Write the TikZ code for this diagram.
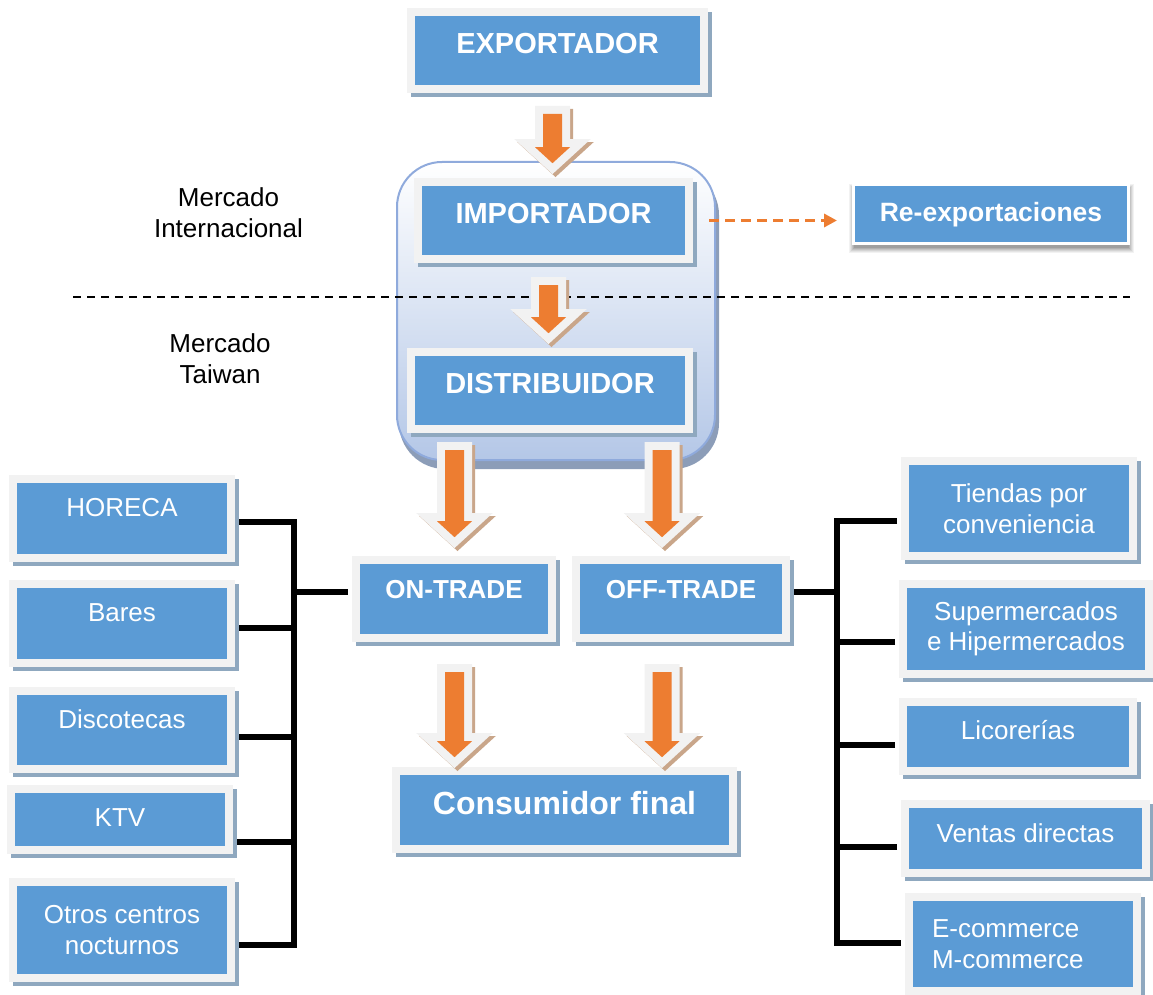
\documentclass[tikz,border=0pt]{standalone}
\usepackage{fontspec}
\setmainfont{Liberation Sans}
\usetikzlibrary{calc,arrows.meta}
\definecolor{boxblue}{HTML}{5B9BD5}
\definecolor{framec}{HTML}{F2F2F2}
\definecolor{shadowc}{HTML}{8FA8BF}
\definecolor{arrowor}{HTML}{ED7D31}
\definecolor{arrsh}{HTML}{C9A68A}
\definecolor{contb}{HTML}{8FAADC}
\definecolor{contfill}{HTML}{B4C7E7}
\definecolor{contsh}{HTML}{8C9DB8}
\newcommand\rup[2]{\raisebox{#1}[\height][\depth]{#2}}
\newcommand\blockarrow[2]{%
 \fill[arrsh, draw=arrsh, line width=16pt, transform canvas={shift={(3pt,-3pt)}}] let \p1=#1, \p2=#2 in (\x2-9.5pt,\y1-8pt) -- (\x2+9.5pt,\y1-8pt) -- (\x2+9.5pt,\y2+26.8pt) -- (\x2+17.5pt,\y2+26.8pt) -- (\x2,\y2+10.8pt) -- (\x2-17.5pt,\y2+26.8pt) -- (\x2-9.5pt,\y2+26.8pt) -- cycle;
 \fill[framec, draw=framec, line width=16pt] let \p1=#1, \p2=#2 in (\x2-9.5pt,\y1-8pt) -- (\x2+9.5pt,\y1-8pt) -- (\x2+9.5pt,\y2+26.8pt) -- (\x2+17.5pt,\y2+26.8pt) -- (\x2,\y2+10.8pt) -- (\x2-17.5pt,\y2+26.8pt) -- (\x2-9.5pt,\y2+26.8pt) -- cycle;
 \fill[arrowor] let \p1=#1, \p2=#2 in (\x2-9.5pt,\y1-8pt) -- (\x2+9.5pt,\y1-8pt) -- (\x2+9.5pt,\y2+26.8pt) -- (\x2+17.5pt,\y2+26.8pt) -- (\x2,\y2+10.8pt) -- (\x2-17.5pt,\y2+26.8pt) -- (\x2-9.5pt,\y2+26.8pt) -- cycle;
}
\tikzset{
 bx/.style={fill=boxblue, draw=framec, line width=8pt, inner sep=0pt, text=white, align=center,
   font=\fontsize{26}{30.5}\selectfont,
   preaction={draw=shadowc, fill=shadowc, line width=8pt, transform canvas={shift={(4pt,-4pt)}}}},
 bbx/.style={bx, font=\bfseries\fontsize{29}{34}\selectfont},
 one/.style={text depth=0pt},
 sz/.style 2 args={minimum width=#1pt, minimum height=#2pt},
 lbl/.style={align=center, font=\fontsize{26}{31}\selectfont, inner sep=0pt},
 tree/.style={line width=6pt, black, line join=miter},
}
\begin{document}
\begin{tikzpicture}[x=1pt,y=-1pt]
\useasboundingbox (0,0) rectangle (1153,995);
% group container
\node[sz={318}{298}, rounded corners=45pt, draw=contb, line width=2pt, top color=white, bottom color=contfill,
  preaction={fill=contsh, draw=contsh, line width=2pt, transform canvas={shift={(3pt,-8pt)}}}] (grp) at (556,311) {};
% market labels
\node[lbl] (mi) at (228.5,213) {Mercado\\Internacional};
\node[lbl] (mt) at (220,359) {Mercado\\Taiwan};
\coordinate (dl) at (73,297);
\coordinate (dr) at (1130,297);
\draw[line width=1.5pt, dash pattern=on 8pt off 6pt] (dl) -- (dr);
% main chain boxes
\path
 (557.5,50.5) node[bbx, one, sz={293}{77}] (exp) {\rup{7pt}{EXPORTADOR}}
 (553.5,220.5) node[bbx, one, sz={271}{77}] (imp) {\rup{7pt}{IMPORTADOR}}
 (550,390.5) node[bbx, one, sz={278}{77}] (dist) {\rup{7.5pt}{DISTRIBUIDOR}}
 (454,599) node[bbx, one, sz={196}{78}, font=\bfseries\fontsize{26}{30}\selectfont] (on) {\rup{10pt}{ON-TRADE}}
 (681,599) node[bbx, one, sz={210}{78}, font=\bfseries\fontsize{26}{30}\selectfont] (off) {\rup{10pt}{OFF-TRADE}};
\path
 (122,518.5) coordinate (c1) (122,623.5) coordinate (c2) (122,730) coordinate (c3) (120,819.5) coordinate (c4) (122,930) coordinate (c5)
 (1019,508.5) coordinate (d1) (1026,629) coordinate (d2) (1018,736.5) coordinate (d3) (1025.5,838.5) coordinate (d4) (1023,944) coordinate (d5);
\coordinate (LT) at (294,522);
\coordinate (LB) at (294,945);
\coordinate (LM) at (294,592);
\coordinate (RT) at (837,521);
\coordinate (RB) at (837,943);
\coordinate (RM) at (837,592);
% left boxes
\node[bx, one, sz={218}{79}] (horeca) at (c1) {\rup{11pt}{HORECA}};
\node[bx, one, sz={218}{79}] (bares) at (c2) {\rup{11pt}{Bares}};
\node[bx, one, sz={218}{78}] (disco) at (c3) {\rup{11pt}{Discotecas}};
\node[bx, one, sz={218}{61}] (ktv) at (c4) {\rup{2pt}{KTV}};
\node[bx, sz={218}{96}] (otros) at (c5) {Otros centros\\nocturnos};
% right boxes
\node[bx, sz={228}{95}] (tiendas) at (d1) {Tiendas por\\conveniencia};
\node[bx, sz={246}{90}] (super) at (d2) {Supermercados\\e Hipermercados};
\node[bx, one, sz={230}{69}] (lico) at (d3) {\rup{7pt}{Licorerías}};
\node[bx, one, sz={241}{69}] (ventas) at (d4) {\rup{5pt}{Ventas directas}};
\node[bx, sz={228}{94}, align=left, text width=182pt, inner xsep=23pt] (ecom) at (d5) {E-commerce\\M-commerce};
% tree connectors
\draw[tree] ([xshift=4pt]horeca.east |- LT) -- (LT) -- (LB) -- ([xshift=4pt]otros.east |- LB);
\draw[tree] ([xshift=4pt]bares.east |- 0,628) -- (294,628);
\draw[tree] ([xshift=4pt]disco.east |- 0,737) -- (294,737);
\draw[tree] ([xshift=4pt]ktv.east |- 0,842) -- (294,842);
\draw[tree] (LM) -- ([xshift=-4pt]on.west |- LM);
\draw[tree] ([xshift=-4pt]tiendas.west |- RT) -- (RT) -- (RB) -- ([xshift=-4pt]ecom.west |- RB);
\draw[tree] ([xshift=-4pt]super.west |- 0,642) -- (837,642);
\draw[tree] ([xshift=-4pt]lico.west |- 0,745) -- (837,745);
\draw[tree] ([xshift=-4pt]ventas.west |- 0,847) -- (837,847);
\draw[tree] (RM) -- ([xshift=4pt]off.east |- RM);
% consumidor
\node[bbx, one, sz={337}{78}, font=\bfseries\fontsize{32}{36}\selectfont] (cons) at (564.5,810) {\rup{7pt}{Consumidor final}};
% re-exportaciones with soft shadow
\node[inner sep=0pt, sz={275}{59}] (rexg) at (991,214) {};
\foreach \i/\o in {1/0.10,2/0.09,3/0.08,4/0.07,5/0.06,6/0.05}{
  \fill[black, opacity=\o] ($(rexg.north west)+(-\i+2,-\i+6)$) rectangle ($(rexg.south east)+(\i-1,\i+3)$);
}
\node[fill=boxblue, draw=white, line width=3pt, inner sep=0pt, text=white, one, sz={275}{59},
  font=\bfseries\fontsize{26.5}{31}\selectfont] (rex) at (991,214) {\rup{2.5pt}{Re-exportaciones}};
\draw[arrowor, line width=3.5pt, dash pattern=on 10pt off 6pt, -{Triangle[length=13pt,width=13pt]},
  shorten <=16pt, shorten >=15pt] (imp.east) -- (imp.east -| rex.west);
% block arrows
\blockarrow{($(exp.south)+(0,13)$)}{($(imp.north)+(-1,-4)$)}
\blockarrow{($(imp.south)+(0,14)$)}{($(dist.north)+(-1.5,-4)$)}
\blockarrow{($(dist.south)+(0,9)$)}{($(on.north)+(0.5,-8)$)}
\blockarrow{($(dist.south)+(0,9)$)}{($(off.north)+(-19,-8)$)}
\blockarrow{($(on.south)+(0,22)$)}{($(on.south |- cons.north)+(0.5,1)$)}
\blockarrow{($(off.south)+(0,22)$)}{($(off.south |- cons.north)+(-19,1)$)}
\end{tikzpicture}
\end{document}
